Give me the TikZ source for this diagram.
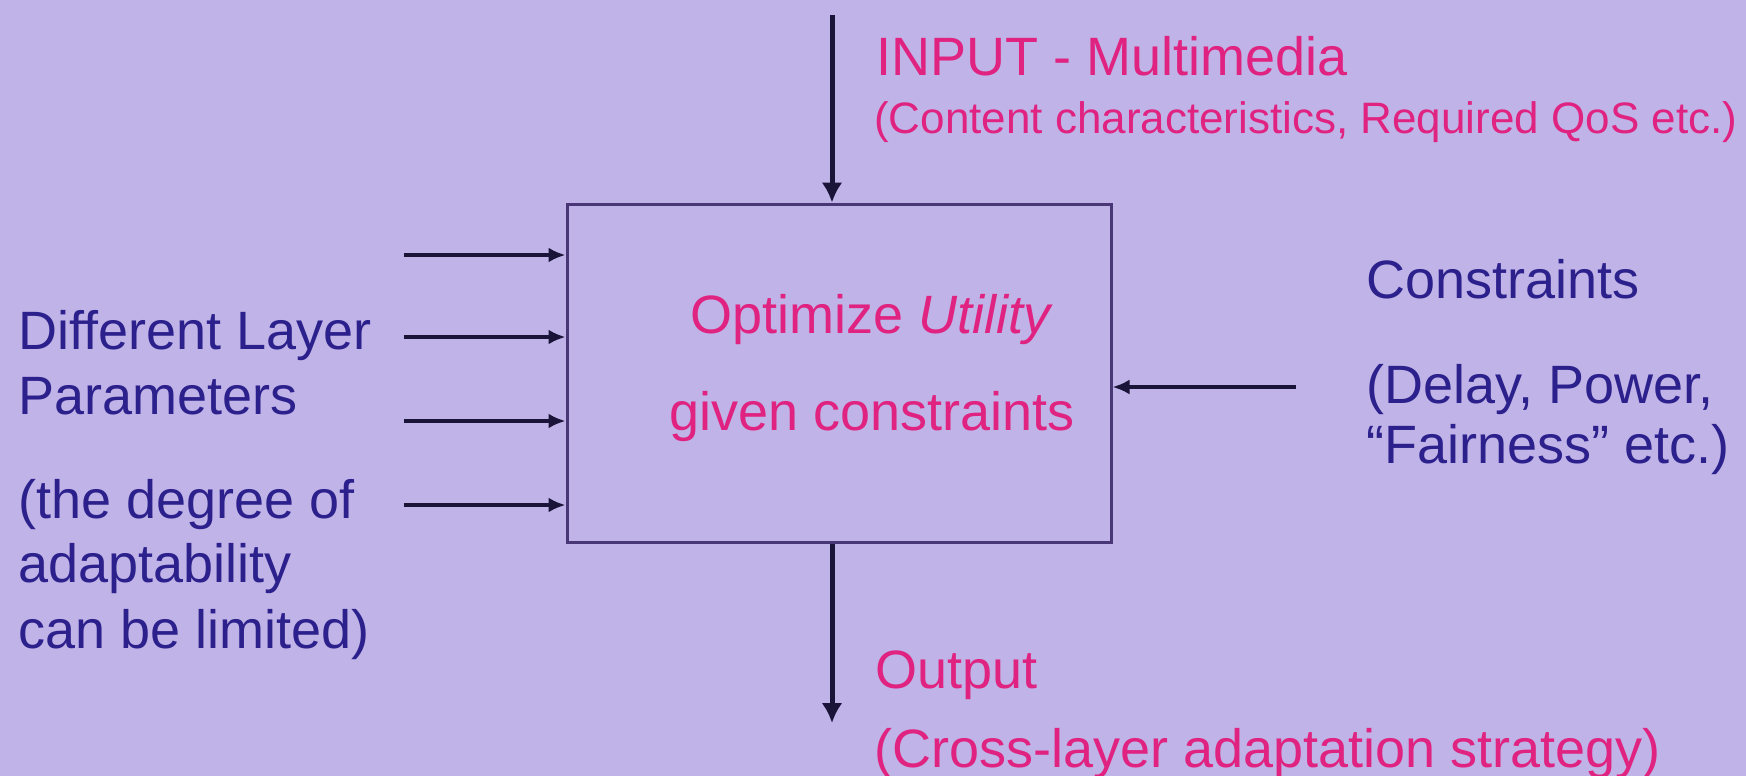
\documentclass[tikz,border=0pt]{standalone}
\usepackage{fontspec}
\setmainfont{Liberation Sans}
\usetikzlibrary{arrows.meta}

\definecolor{slidebg}{RGB}{192,179,231}
\definecolor{pinktext}{RGB}{224,34,128}
\definecolor{bluetext}{RGB}{44,32,140}
\definecolor{arrowcol}{RGB}{26,20,56}
\definecolor{boxcol}{RGB}{72,54,118}

\tikzstyle{arr} = [draw=arrowcol, line width=4.5pt, -{Latex[length=17pt,width=15pt]}]
\tikzstyle{bigarr} = [arr, line width=5pt, -{Latex[length=20pt,width=21pt]}]
\tikzstyle{pinklabel} = [text=pinktext, anchor=base west, inner sep=0pt, font=\fontsize{54}{64}\selectfont]
\tikzstyle{bluelabel} = [text=bluetext, anchor=base west, inner sep=0pt, font=\fontsize{54}{64}\selectfont]
\tikzstyle{optbox} = [draw=boxcol, line width=3pt, minimum width=544pt, minimum height=338pt, inner sep=0pt]

\begin{document}
\begin{tikzpicture}[x=1pt, y=-1pt]
      \fill[slidebg] (0,0) rectangle (1746,776);
      \useasboundingbox (0,0) rectangle (1746,776);

      \node[optbox] (box) at (839,373) {};
      \node[pinklabel, anchor=base] (opt) at (872,333) {Optimize \textit{Utility}};
      \node[pinklabel, anchor=base] (given) at (872,430) {given constraints};

      % input on top, output below
      \coordinate (in) at (832,15);
      \coordinate (out) at (832,723);
      \node[pinklabel] (input) at (876,76) {INPUT - Multimedia};
      \node[pinklabel, font=\fontsize{44}{52}\selectfont] (content) at (874,133) {(Content characteristics, Required QoS etc.)};
      \node[pinklabel] (output) at (875,688) {Output};
      \node[pinklabel] (strategy) at (874,767) {(Cross-layer adaptation strategy)};

      \draw[bigarr] (in) -- (in |- box.north);
      \draw[bigarr] (box.south -| out) -- (out);

      % layer parameters on the left
      \node[bluelabel] (dl1) at (18,349) {Different Layer};
      \node[bluelabel] (dl2) at (18,414) {Parameters};
      \node[bluelabel] (dl3) at (18,518) {(the degree of};
      \node[bluelabel] (dl4) at (18,582) {adaptability};
      \node[bluelabel] (dl5) at (18,648) {can be limited)};

      \foreach \y [count=\i] in {255,337,421,505}
        \coordinate (p\i) at (404,\y);
      \foreach \i in {1,...,4}
        \draw[arr] (p\i) -- (p\i -| box.west);

      % constraints on the right
      \node[bluelabel] (cons) at (1366,298) {Constraints};
      \node[bluelabel] (cons2) at (1366,403) {(Delay, Power,};
      \node[bluelabel] (cons3) at (1366,463) {“Fairness” etc.)};
      \coordinate (c) at (1296,387);
      \draw[arr] (c) -- (c -| box.east);
\end{tikzpicture}
\end{document}
